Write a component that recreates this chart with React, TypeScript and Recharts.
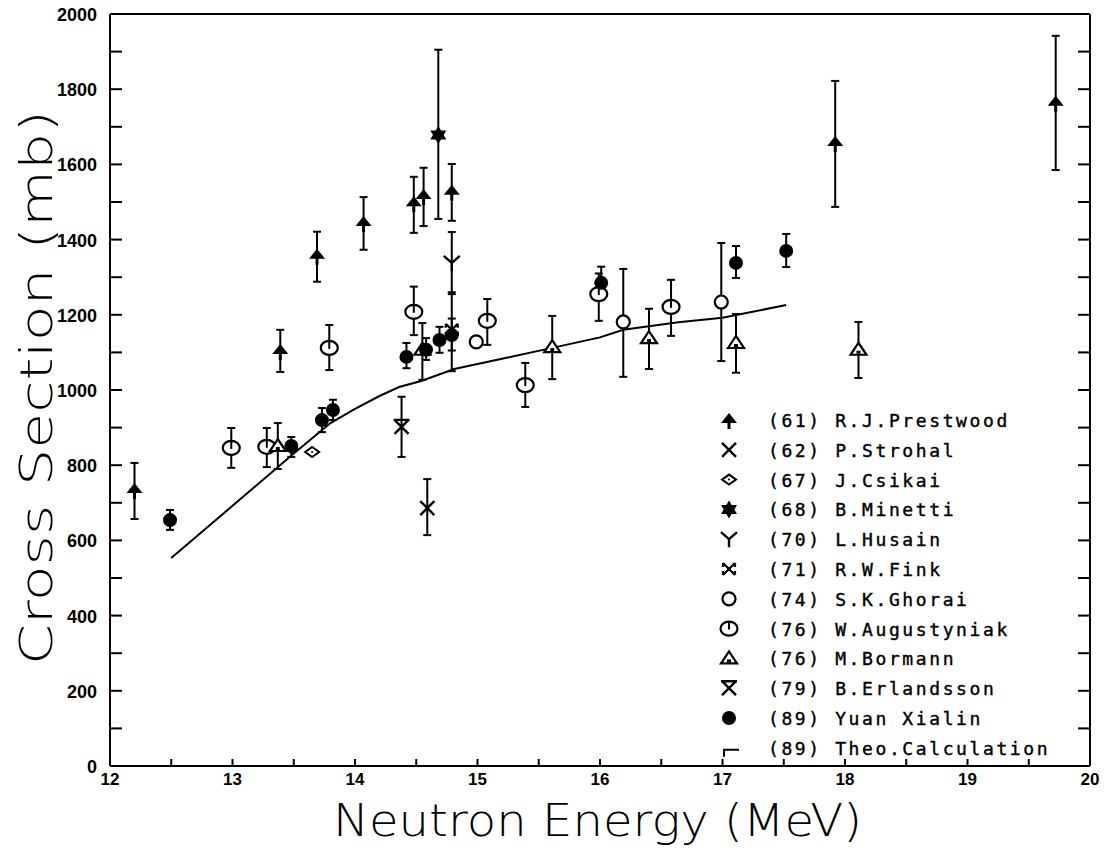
import { ErrorBar, Scatter, ScatterChart, XAxis, YAxis } from 'recharts'

// each point: [energy MeV, cross section mb, lower end of bar, upper end of bar]
type Pt = [number, number, number?, number?]

const prestwood: Pt[] = [
  [12.2, 734, 657, 806],
  [13.39, 1104, 1048, 1160],
  [13.69, 1357, 1288, 1421],
  [14.07, 1444, 1373, 1513],
  [14.48, 1497, 1418, 1567],
  [14.56, 1516, 1436, 1591],
  [14.79, 1527, 1450, 1601],
  [17.92, 1657, 1487, 1822],
  [19.72, 1764, 1585, 1942],
]
const strohal: Pt[] = [[14.59, 686, 614, 763]]
const csikai: Pt[] = [[13.65, 835]]
const minetti: Pt[] = [[14.68, 1678, 1455, 1905]]
const husain: Pt[] = [[14.79, 1338, 1255, 1420]]
const fink: Pt[] = [[14.79, 1160, 1050, 1260]]
const ghorai: Pt[] = [
  [14.99, 1128],
  [16.19, 1181, 1035, 1322],
  [16.99, 1234, 1077, 1391],
]
const augustyniak: Pt[] = [
  [12.99, 846, 793, 899],
  [13.28, 849, 795, 899],
  [13.79, 1112, 1053, 1173],
  [14.48, 1208, 1146, 1275],
  [15.08, 1184, 1120, 1242],
  [15.39, 1013, 955, 1072],
  [15.99, 1255, 1184, 1310],
  [16.58, 1221, 1144, 1293],
]
const bormann: Pt[] = [
  [13.37, 851, 790, 912],
  [14.55, 1107, 1027, 1178],
  [15.61, 1114, 1029, 1197],
  [16.4, 1138, 1056, 1216],
  [17.11, 1125, 1046, 1202],
  [18.11, 1107, 1032, 1181],
]
const erlandsson: Pt[] = [[14.38, 902, 822, 982]]
const yuan: Pt[] = [
  [12.49, 654, 628, 681],
  [13.48, 851, 822, 875],
  [13.73, 920, 888, 952],
  [13.82, 947, 920, 974],
  [14.42, 1088, 1058, 1125],
  [14.58, 1107, 1080, 1138],
  [14.69, 1133, 1099, 1168],
  [14.79, 1146, 1105, 1190],
  [16.01, 1285, 1245, 1328],
  [17.11, 1338, 1298, 1383],
  [17.52, 1370, 1327, 1415],
]

const theoEnergy = [12.5, 13.0, 13.5, 13.8, 14.0, 14.2, 14.36, 14.54, 14.81, 15.2, 15.61, 16.0, 16.19, 16.64, 17.0, 17.52]
const theoValue = [553, 692, 831, 912, 950, 984, 1008, 1024, 1056, 1083, 1112, 1140, 1160, 1180, 1192, 1226]

const xTicks = [12, 12.5, 13, 13.5, 14, 14.5, 15, 15.5, 16, 16.5, 17, 17.5, 18, 18.5, 19, 19.5, 20]
const yTicks = [0, 100, 200, 300, 400, 500, 600, 700, 800, 900, 1000, 1100, 1200, 1300, 1400, 1500, 1600, 1700, 1800, 1900, 2000]

const legendLabels = [
  '(61) R.J.Prestwood',
  '(62) P.Strohal',
  '(67) J.Csikai',
  '(68) B.Minetti',
  '(70) L.Husain',
  '(71) R.W.Fink',
  '(74) S.K.Ghorai',
  '(76) W.Augustyniak',
  '(76) M.Bormann',
  '(79) B.Erlandsson',
  '(89) Yuan Xialin',
  '(89) Theo.Calculation',
]

const K = '#000'
const tickFont = "'Liberation Sans', Arial, sans-serif"

const toRows = (pts: Pt[]) =>
  pts.map(([x, y, lo, hi]) => ({ x, y, err: lo == null || hi == null ? null : [y - lo, hi - y] }))

const theoRows = theoEnergy.map((x, i) => ({ x, y: theoValue[i] }))

type S = { cx: number; cy: number }

const Arrow = ({ cx, cy }: S) => (
  <g>
    <path d={`M${cx - 8},${cy + 3} L${cx},${cy - 7} L${cx + 8},${cy + 3} Z`} fill={K} />
    <line x1={cx} y1={cy} x2={cx} y2={cy + 9} stroke={K} strokeWidth={3} />
  </g>
)
const Cross = ({ cx, cy }: S) => (
  <path d={`M${cx - 7},${cy - 7} L${cx + 7},${cy + 7} M${cx + 7},${cy - 7} L${cx - 7},${cy + 7}`} stroke={K} strokeWidth={2.4} fill="none" />
)
const Diamond = ({ cx, cy }: S) => (
  <g>
    <path d={`M${cx - 7},${cy} L${cx},${cy - 5} L${cx + 7},${cy} L${cx},${cy + 5} Z`} fill="#fff" stroke={K} strokeWidth={2} />
    <circle cx={cx} cy={cy} r={1} fill={K} />
  </g>
)
const Star = ({ cx, cy }: S) => (
  <g fill={K}>
    <path d={`M${cx},${cy - 9} L${cx + 8},${cy + 4.5} L${cx - 8},${cy + 4.5} Z`} />
    <path d={`M${cx},${cy + 9} L${cx + 8},${cy - 4.5} L${cx - 8},${cy - 4.5} Z`} />
  </g>
)
const Wye = ({ cx, cy }: S) => (
  <path d={`M${cx - 8},${cy - 7} L${cx},${cy} L${cx + 8},${cy - 7} M${cx},${cy} L${cx},${cy + 8}`} stroke={K} strokeWidth={2.4} fill="none" />
)
const Bowtie = ({ cx, cy }: S) => (
  <g>
    <path d={`M${cx - 6},${cy - 6} L${cx + 6},${cy + 6} M${cx + 6},${cy - 6} L${cx - 6},${cy + 6} M${cx - 6},${cy - 6} L${cx - 6},${cy - 2} M${cx - 6},${cy + 6} L${cx - 6},${cy + 2} M${cx + 6},${cy - 6} L${cx + 6},${cy - 2} M${cx + 6},${cy + 6} L${cx + 6},${cy + 2}`} stroke={K} strokeWidth={2.2} fill="none" />
    <rect x={cx - 2} y={cy - 2} width={4} height={4} fill={K} />
  </g>
)
const Hourglass = ({ cx, cy }: S) => (
  <path d={`M${cx - 7},${cy - 7} L${cx + 7},${cy + 7} M${cx + 7},${cy - 7} L${cx - 7},${cy + 7} M${cx - 8},${cy - 7} L${cx + 8},${cy - 7}`} stroke={K} strokeWidth={2.4} fill="none" />
)
const Ring = ({ cx, cy }: S) => <circle cx={cx} cy={cy} r={6.5} fill="#fff" stroke={K} strokeWidth={2.2} />
const TickedRing = ({ cx, cy }: S) => (
  <g>
    <ellipse cx={cx} cy={cy} rx={8.5} ry={7} fill="#fff" stroke={K} strokeWidth={2.2} />
    <line x1={cx} y1={cy - 6} x2={cx} y2={cy + 1} stroke={K} strokeWidth={2} />
  </g>
)
const Tri = ({ cx, cy }: S) => (
  <g>
    <path d={`M${cx - 8},${cy + 5} L${cx},${cy - 7} L${cx + 8},${cy + 5} Z`} fill="#fff" stroke={K} strokeWidth={2.2} />
    <rect x={cx - 2} y={cy + 1} width={4} height={3} fill={K} />
  </g>
)
const Dot = ({ cx, cy }: S) => <circle cx={cx} cy={cy} r={7} fill={K} />
const TheoMark = ({ cx, cy }: S) => (
  <path d={`M${cx - 5},${cy + 9} L${cx - 5},${cy + 2} L${cx + 10},${cy + 2}`} stroke={K} strokeWidth={2} fill="none" />
)

const series = [
  { name: 'prestwood', pts: prestwood, Shape: Arrow },
  { name: 'strohal', pts: strohal, Shape: Cross },
  { name: 'csikai', pts: csikai, Shape: Diamond },
  { name: 'minetti', pts: minetti, Shape: Star },
  { name: 'husain', pts: husain, Shape: Wye },
  { name: 'fink', pts: fink, Shape: Bowtie },
  { name: 'ghorai', pts: ghorai, Shape: Ring },
  { name: 'augustyniak', pts: augustyniak, Shape: TickedRing },
  { name: 'bormann', pts: bormann, Shape: Tri },
  { name: 'erlandsson', pts: erlandsson, Shape: Hourglass },
  { name: 'yuan', pts: yuan, Shape: Dot },
]
const legendShapes = [...series.map(s => s.Shape), TheoMark]

// tickSize/tickMargin are 0, so each tick gets the point where it meets the axis line
const BottomTick = ({ x, y, payload }: any) => (
  <g>
    <line x1={x} y1={y} x2={x} y2={y - 7} stroke={K} strokeWidth={2} />
    {Number.isInteger(payload.value) && (
      <text x={x} y={y + 19} textAnchor="middle" fontFamily={tickFont} fontWeight="bold" fontSize={17} fill={K}>
        {payload.value}
      </text>
    )}
  </g>
)
const TopTick = ({ x, y }: any) => <line x1={x} y1={y} x2={x} y2={y + 8} stroke={K} strokeWidth={2} />
const LeftTick = ({ x, y, payload }: any) => (
  <g>
    <line x1={x} y1={y} x2={x + 12} y2={y} stroke={K} strokeWidth={2} />
    {payload.value % 200 === 0 && (
      <text x={x - 13} y={y + 7} textAnchor="end" fontFamily={tickFont} fontWeight="bold" fontSize={18} fill={K}>
        {payload.value}
      </text>
    )}
  </g>
)
const RightTick = ({ x, y }: any) => <line x1={x} y1={y} x2={x - 12} y2={y} stroke={K} strokeWidth={2} />

const axisLine = { stroke: K, strokeWidth: 2 }

export default function App() {
  return (
    <div style={{ position: 'absolute', left: 0, top: 0, width: 1107, height: 863, background: '#fff' }}>
      <ScatterChart width={1107} height={863} margin={{ top: 4, right: 7, bottom: 67, left: 50 }}>
        <XAxis
          xAxisId="b"
          dataKey="x"
          type="number"
          domain={[12, 20]}
          ticks={xTicks}
          interval={0}
          allowDataOverflow
          height={30}
          tickSize={0}
          tickMargin={0}
          tickLine={false}
          axisLine={axisLine}
          tick={BottomTick}
        />
        <XAxis
          xAxisId="t"
          orientation="top"
          type="number"
          domain={[12, 20]}
          ticks={xTicks}
          interval={0}
          allowDataOverflow
          height={10}
          tickSize={0}
          tickMargin={0}
          tickLine={false}
          axisLine={axisLine}
          tick={TopTick}
        />
        <YAxis
          yAxisId="l"
          dataKey="y"
          type="number"
          domain={[0, 2000]}
          ticks={yTicks}
          interval={0}
          allowDataOverflow
          width={60}
          tickSize={0}
          tickMargin={0}
          tickLine={false}
          axisLine={axisLine}
          tick={LeftTick}
        />
        <YAxis
          yAxisId="r"
          orientation="right"
          type="number"
          domain={[0, 2000]}
          ticks={yTicks}
          interval={0}
          allowDataOverflow
          width={10}
          tickSize={0}
          tickMargin={0}
          tickLine={false}
          axisLine={axisLine}
          tick={RightTick}
        />
        <Scatter
          xAxisId="b"
          yAxisId="l"
          data={theoRows}
          line={{ stroke: K, strokeWidth: 2 }}
          lineType="joint"
          shape={() => <g />}
          isAnimationActive={false}
        />
        {series.map(({ name, pts, Shape }) => (
          <Scatter
            key={name}
            xAxisId="b"
            yAxisId="l"
            data={toRows(pts)}
            shape={(p: any) => <Shape cx={p.cx} cy={p.cy} />}
            isAnimationActive={false}
          >
            <ErrorBar dataKey="err" direction="y" width={4} stroke={K} strokeWidth={2} />
          </Scatter>
        ))}
      </ScatterChart>
      <svg width={1107} height={863} style={{ position: 'absolute', left: 0, top: 0, pointerEvents: 'none' }}>
        <text
          x={333}
          y={836}
          textLength={529}
          lengthAdjust="spacingAndGlyphs"
          fontFamily="'DejaVu Sans', sans-serif"
          fontWeight={200}
          fontSize={44}
          fill={K}
        >
          Neutron Energy (MeV)
        </text>
        <text
          transform="translate(52,665) rotate(-90)"
          textLength={555}
          lengthAdjust="spacingAndGlyphs"
          fontFamily="'DejaVu Sans', sans-serif"
          fontWeight={200}
          fontSize={44}
          fill={K}
        >
          Cross Section (mb)
        </text>
        {legendLabels.map((label, i) => {
          const Shape = legendShapes[i]
          const cy = 420 + i * 29.8
          return (
            <g key={label}>
              <Shape cx={729} cy={cy} />
              <text
                x={768}
                y={cy + 7}
                fontFamily="'DejaVu Sans Mono', monospace"
                fontSize={18}
                letterSpacing={2.6}
                fill={K}
                stroke={K}
                strokeWidth={0.4}
              >
                {label}
              </text>
            </g>
          )
        })}
      </svg>
    </div>
  )
}
